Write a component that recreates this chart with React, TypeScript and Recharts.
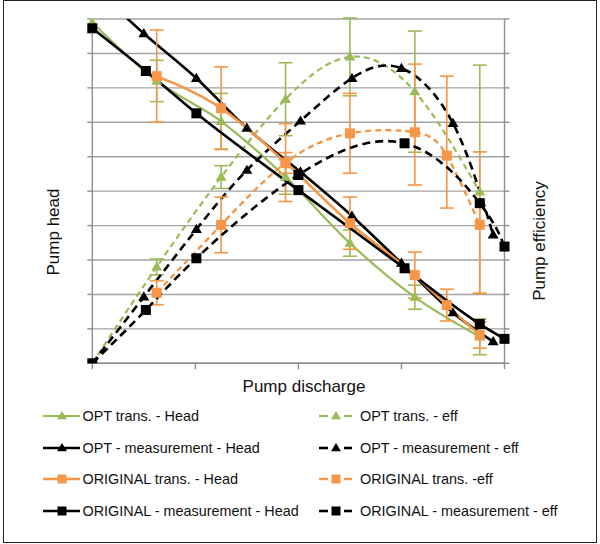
import React from 'react';
import { LineChart, Line, XAxis, YAxis, CartesianGrid, ErrorBar, Legend, Label } from 'recharts';

// OPT - measurement (black, triangles)
const OPT_MEAS_X = [0, 0.5, 1.01, 1.5, 2.02, 2.52, 3.0, 3.5, 3.89];
const OPT_MEAS_HEAD = [10.95, 9.58, 8.28, 6.83, 5.56, 4.28, 2.91, 1.47, 0.63];
const OPT_MEAS_EFF = [0, 1.93, 3.89, 5.61, 7.04, 8.28, 8.57, 6.97, 3.73];

// OPT trans. (green, triangles, error bars)
const OPT_TRANS_X = [0, 0.625, 1.25, 1.875, 2.5, 3.13, 3.76];
const OPT_TRANS_HEAD = [9.9, 8.2, 7.03, 5.41, 3.49, 1.92, 0.77];
const OPT_TRANS_HEAD_ERR = [0, 0.6, 0.81, 0.5, 0.38, 0.35, 0.52];
const OPT_TRANS_EFF = [0, 2.8, 5.41, 7.67, 8.9, 7.89, 4.98];
const OPT_TRANS_EFF_ERR = [0, 0.23, 0.33, 1.06, 1.13, 1.76, [2.95, 3.68]];

// ORIGINAL trans. (orange, squares, error bars)
const ORIG_TRANS_X = [0.625, 1.25, 1.875, 2.5, 3.13, 3.44, 3.76];
const ORIG_TRANS_HEAD = [8.34, 7.41, 5.83, 4.07, 2.56, 1.69, 0.82];
const ORIG_TRANS_HEAD_ERR = [1.34, 1.2, 1.13, 0.76, 0.67, 0.46, 0.38];
const ORIG_TRANS_EFF = [2.05, 4.02, 5.82, 6.68, 6.71, 6.03, 4.02];
const ORIG_TRANS_EFF_ERR = [0.35, 0.81, 0.3, 1.16, [1.53, 1.98], [1.52, 2.31], [1.99, 2.12]];

// ORIGINAL - measurement (black, squares)
const ORIG_MEAS_X = [0, 0.52, 1.01, 2.0, 3.03, 3.76, 4.0];
const ORIG_MEAS_HEAD = [9.73, 8.49, 7.26, 5.03, 2.76, 1.14, 0.71];
const ORIG_MEAS_EFF = [0, 1.55, 3.05, 5.47, 6.39, 4.65, 3.39];

const X_TICKS = [0, 1, 2, 3, 4];
const Y_TICKS = [0, 1, 2, 3, 4, 5, 6, 7, 8, 9, 10];

const GREEN = '#9bbb59';
const ORANGE = '#f79646';
const BLACK = '#000000';
const GRID = '#a3a3a3';
const FONT = '"Liberation Sans", Arial, sans-serif';

// axes are 1px wide/high (a 0 size axis is not drawn), so the margins are 1px smaller
const M = { top: 19, right: 94.5, bottom: 179.7, left: 91.3 };

type Series = {
  name: string;
  axis: 0 | 'eff';
  xs: number[];
  ys: number[];
  err?: (number | number[])[];
  color: string;
  dash?: string;
  mark: 'tri' | 'sq';
  width: number;
  size: number;
  curve: 'monotone' | 'natural';
};

// head series use the default (left) y axis, eff series the right one
const SERIES: Series[] = [
  { name: 'OPT trans. - Head', axis: 0, xs: OPT_TRANS_X, ys: OPT_TRANS_HEAD, err: OPT_TRANS_HEAD_ERR, color: GREEN, mark: 'tri', width: 2.2, size: 10, curve: 'monotone' },
  { name: 'OPT trans. - eff', axis: 'eff', xs: OPT_TRANS_X, ys: OPT_TRANS_EFF, err: OPT_TRANS_EFF_ERR, color: GREEN, dash: '6 4', mark: 'tri', width: 2.2, size: 10, curve: 'natural' },
  { name: 'OPT - measurement - Head', axis: 0, xs: OPT_MEAS_X, ys: OPT_MEAS_HEAD, color: BLACK, mark: 'tri', width: 2.6, size: 10, curve: 'monotone' },
  { name: 'OPT - measurement - eff', axis: 'eff', xs: OPT_MEAS_X, ys: OPT_MEAS_EFF, color: BLACK, dash: '8 5', mark: 'tri', width: 2.6, size: 10, curve: 'natural' },
  { name: 'ORIGINAL trans. - Head', axis: 0, xs: ORIG_TRANS_X, ys: ORIG_TRANS_HEAD, err: ORIG_TRANS_HEAD_ERR, color: ORANGE, mark: 'sq', width: 2.6, size: 10, curve: 'monotone' },
  { name: 'ORIGINAL trans. -eff', axis: 'eff', xs: ORIG_TRANS_X, ys: ORIG_TRANS_EFF, err: ORIG_TRANS_EFF_ERR, color: ORANGE, dash: '6 4', mark: 'sq', width: 2.4, size: 10, curve: 'natural' },
  { name: 'ORIGINAL - measurement - Head', axis: 0, xs: ORIG_MEAS_X, ys: ORIG_MEAS_HEAD, color: BLACK, mark: 'sq', width: 2.6, size: 10, curve: 'monotone' },
  { name: 'ORIGINAL - measurement - eff', axis: 'eff', xs: ORIG_MEAS_X, ys: ORIG_MEAS_EFF, color: BLACK, dash: '8 5', mark: 'sq', width: 2.6, size: 10, curve: 'natural' },
];

function Marker({ kind, cx, cy, color, size }: { kind: 'tri' | 'sq'; cx: number; cy: number; color: string; size: number }) {
  if (kind === 'sq') {
    return <rect x={cx - size / 2} y={cy - size / 2} width={size} height={size} fill={color} />;
  }
  const h = size * 0.92;
  return (
    <polygon
      points={`${cx},${cy - h * 0.6} ${cx + size / 2 + 0.5},${cy + h * 0.4} ${cx - size / 2 - 0.5},${cy + h * 0.4}`}
      fill={color}
    />
  );
}

const dotFor = (s: Series) => (p: any) => {
  const key = `${s.name}-${p.index}`;
  if (p.cx == null || p.cy == null) return <g key={key} />;
  return (
    <g key={key}>
      <Marker kind={s.mark} cx={p.cx} cy={p.cy} color={s.color} size={s.size} />
    </g>
  );
};

function LegendBox() {
  const rowY = [16, 47.5, 79, 111];
  return (
    <div style={{ position: 'relative', width: 600, height: 130, fontFamily: FONT, fontSize: 14.4, color: '#111' }}>
      {SERIES.map((s, i) => {
        const col = i % 2;
        const row = Math.floor(i / 2);
        const iconX = col === 0 ? 43 : 319;
        const textX = col === 0 ? 82.5 : 360;
        const cy = rowY[row];
        return (
          <div key={s.name}>
            <svg
              width={40}
              height={16}
              style={{ position: 'absolute', left: iconX, top: cy - 8, overflow: 'visible' }}
            >
              {s.dash ? (
                <g stroke={s.color} strokeWidth={s.width}>
                  <line x1={0} y1={8} x2={9} y2={8} />
                  <line x1={25} y1={8} x2={33} y2={8} />
                </g>
              ) : (
                <line x1={0} y1={8} x2={37} y2={8} stroke={s.color} strokeWidth={s.width} />
              )}
              <Marker kind={s.mark} cx={s.dash ? 17 : 19} cy={8} color={s.color} size={s.size - 1} />
            </svg>
            <span style={{ position: 'absolute', left: textX, top: cy - 9, lineHeight: '18px', whiteSpace: 'nowrap' }}>
              {s.name}
            </span>
          </div>
        );
      })}
    </div>
  );
}

const axisLine = { stroke: '#8f8f8f', strokeWidth: 1.4 };
const noLabel = () => <g />;

export default function App() {
  return (
    <div style={{ position: 'absolute', left: 0, top: 0, width: 600, height: 544, background: '#fff' }}>
      <div
        style={{
          position: 'absolute',
          left: 3,
          top: 0,
          width: 594,
          height: 543,
          border: '1.5px solid #222',
          boxSizing: 'border-box',
        }}
      />
      <div style={{ position: 'absolute', left: 0, top: 0 }}>
        <LineChart width={600} height={544} margin={M}>
          <CartesianGrid vertical={false} stroke={GRID} strokeWidth={1.4} horizontalValues={Y_TICKS} />
          <XAxis
            type="number"
            dataKey="x"
            domain={[0, 4]}
            ticks={X_TICKS}
            tick={noLabel}
            tickSize={6}
            height={1}
            axisLine={axisLine}
            tickLine={axisLine}
          >
            <Label
              content={() => (
                <text x={304} y={386} textAnchor="middle" dominantBaseline="central" fontFamily={FONT} fontSize={17} fill="#111">
                  Pump discharge
                </text>
              )}
            />
          </XAxis>
          <YAxis
            domain={[0, 10]}
            ticks={Y_TICKS}
            allowDataOverflow
            tick={noLabel}
            tickSize={5}
            width={1}
            axisLine={axisLine}
            tickLine={axisLine}
          >
            <Label
              content={() => (
                <text
                  transform="translate(53,232) rotate(-90)"
                  textAnchor="middle"
                  dominantBaseline="central"
                  fontFamily={FONT}
                  fontSize={17}
                  fill="#111"
                >
                  Pump head
                </text>
              )}
            />
          </YAxis>
          <YAxis
            yAxisId="eff"
            orientation="right"
            domain={[0, 10]}
            ticks={Y_TICKS}
            allowDataOverflow
            tick={noLabel}
            tickSize={5}
            width={1}
            axisLine={axisLine}
            tickLine={axisLine}
          >
            <Label
              content={() => (
                <text
                  transform="translate(539,241) rotate(-90)"
                  textAnchor="middle"
                  dominantBaseline="central"
                  fontFamily={FONT}
                  fontSize={17}
                  fill="#111"
                >
                  Pump efficiency
                </text>
              )}
            />
          </YAxis>
          {SERIES.map((s) => (
            <Line
              key={s.name}
              name={s.name}
              yAxisId={s.axis}
              data={s.xs.map((x, i) => ({ x, y: s.ys[i], err: s.err ? s.err[i] : 0 }))}
              dataKey="y"
              type={s.curve}
              stroke={s.color}
              strokeWidth={s.width}
              strokeDasharray={s.dash}
              dot={dotFor(s)}
              activeDot={false}
              isAnimationActive={false}
            >
              {s.err && (
                <ErrorBar dataKey="err" direction="y" width={7} stroke={s.color} strokeWidth={1.6} />
              )}
            </Line>
          ))}
          <Legend
            layout="horizontal"
            verticalAlign="middle"
            align="center"
            wrapperStyle={{ left: 0, top: 400, width: 600, height: 130 }}
            content={() => <LegendBox />}
          />
        </LineChart>
      </div>
    </div>
  );
}
